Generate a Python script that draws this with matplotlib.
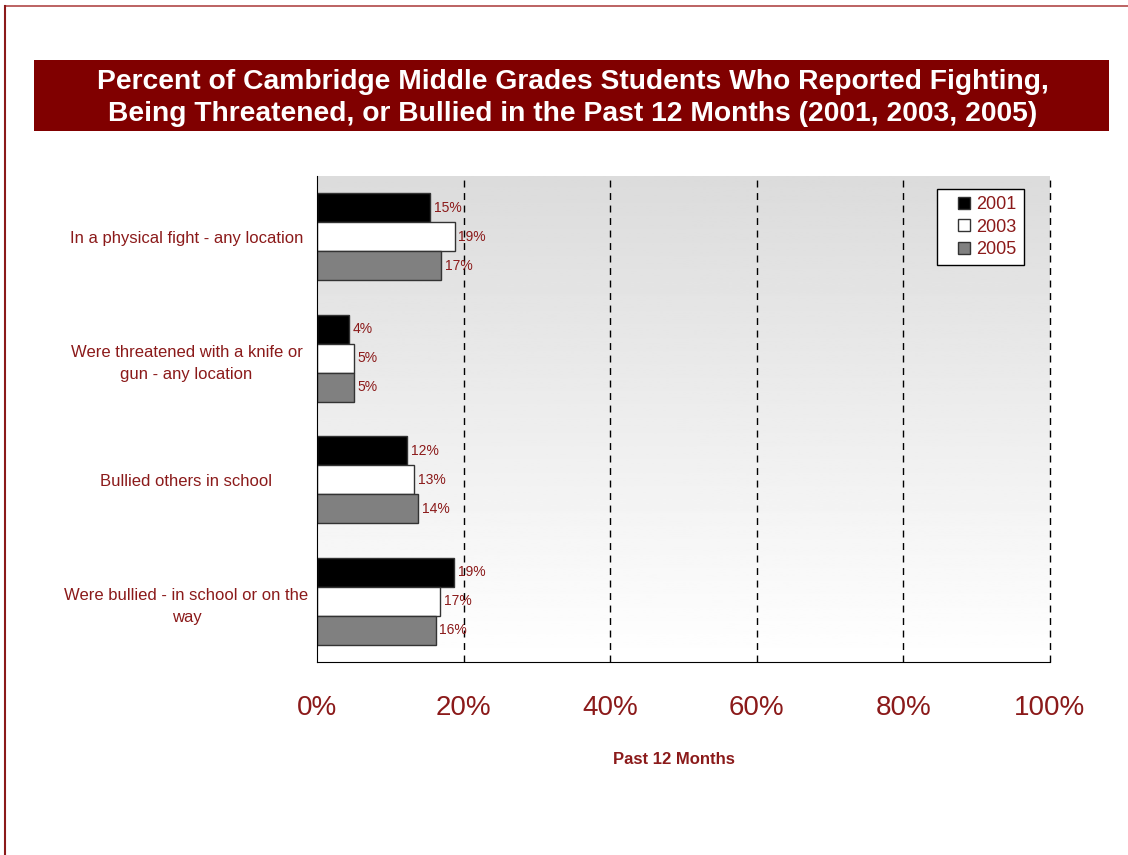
import numpy as np
import matplotlib
matplotlib.use("Agg")
import matplotlib.pyplot as plt
from matplotlib.patches import Rectangle
from matplotlib.lines import Line2D

plt.rcParams["font.family"] = ["Liberation Sans", "DejaVu Sans"]

# data
categories = [
    "In a physical fight - any location",
    "Were threatened with a knife or\ngun - any location",
    "Bullied others in school",
    "Were bullied - in school or on the\nway",
]
years = ["2001", "2003", "2005"]
v2001 = [15.4, 4.4, 12.3, 18.7]
v2003 = [18.8, 5.0, 13.3, 16.8]
v2005 = [16.9, 5.0, 13.8, 16.2]
xticks = [0, 20, 40, 60, 80, 100]
xticklabels = ["0%", "20%", "40%", "60%", "80%", "100%"]

dark_red = "#8B1A1A"
bar_colors = ["#000000", "#ffffff", "#808080"]

fig = plt.figure(figsize=(11.28, 8.55), dpi=100)
W, H = 1128, 855

# page frame lines
fig.add_artist(Line2D([5 / W, 1], [1 - 6 / H, 1 - 6 / H], color="#b04848", lw=1.2))
fig.add_artist(Line2D([5 / W, 5 / W], [0, 1 - 6 / H], color="#8B1A1A", lw=1.5))

# title banner
fig.add_artist(Rectangle((34 / W, 1 - 131 / H), (1109 - 34) / W, 71 / H,
                         facecolor="#800000", edgecolor="none", transform=fig.transFigure))
fig.text(573 / W, 1 - 98 / H,
         "Percent of Cambridge Middle Grades Students Who Reported Fighting,\n"
         "Being Threatened, or Bullied in the Past 12 Months (2001, 2003, 2005)",
         color="white", fontsize=20.3, fontweight="bold", ha="center", va="center",
         linespacing=1.3)

ax = fig.add_axes([317 / W, 1 - 662 / H, (1050 - 317) / W, (662 - 176) / H])

# gradient background
grad = np.linspace(0.86, 1.0, 256).reshape(-1, 1)
ax.imshow(grad, cmap="gray", vmin=0, vmax=1, aspect="auto",
          extent=[0, 1, 0, 1], transform=ax.transAxes, zorder=0)

y = np.arange(len(categories))
h = 0.24
series = [v2001, v2003, v2005]
for i, vals in enumerate(series):
    pos = y + (i - 1) * h
    ax.barh(pos, vals, height=h, color=bar_colors[i], edgecolor="#333333",
            linewidth=1, zorder=3, label=years[i])
    for p, v in zip(pos, vals):
        ax.text(v + 0.5, p, f"{round(v):d}%", color=dark_red, fontsize=10,
                va="center", ha="left", zorder=5)

for xv in xticks[1:]:
    ax.axvline(xv, color="black", ls=(0, (5, 4)), lw=1, zorder=1, clip_on=False)

ax.set_xlim(0, 100)
ax.set_ylim(3.5, -0.5)
ax.set_xticks(xticks)
ax.set_xticklabels(xticklabels, fontsize=20, color=dark_red)
ax.set_yticks(y)
ax.set_yticklabels(categories, fontsize=12, color=dark_red, ha="center",
                   multialignment="center", linespacing=1.6)
ax.tick_params(axis="y", length=0, pad=94)
ax.tick_params(axis="x", length=0, pad=24)
for side in ["top", "right"]:
    ax.spines[side].set_visible(False)
ax.spines["left"].set_color("black")
ax.spines["bottom"].set_color("black")
ax.spines["left"].set_zorder(4)
ax.spines["bottom"].set_zorder(4)

ax.set_xlabel("Past 12 Months", fontsize=12, fontweight="bold", color=dark_red)
ax.xaxis.set_label_coords(0.487, -0.185)

handles = [Line2D([], [], ls="none", marker="s", markersize=8.5, markerfacecolor=c,
                  markeredgecolor="#333333", markeredgewidth=1, label=yr)
           for c, yr in zip(bar_colors, years)]
leg = ax.legend(handles=handles, loc="upper right", bbox_to_anchor=(0.964, 0.973),
                fontsize=13, frameon=True, fancybox=False, handlelength=2.1,
                handletextpad=-0.35, borderpad=0.4, labelspacing=0.3,
                borderaxespad=0)
leg.get_frame().set_edgecolor("black")
leg.get_frame().set_linewidth(1)
leg.get_frame().set_facecolor("white")
leg.get_frame().set_alpha(1)
for t in leg.get_texts():
    t.set_color(dark_red)
leg.set_zorder(6)

fig.savefig("out.png", dpi=100, facecolor="white")
